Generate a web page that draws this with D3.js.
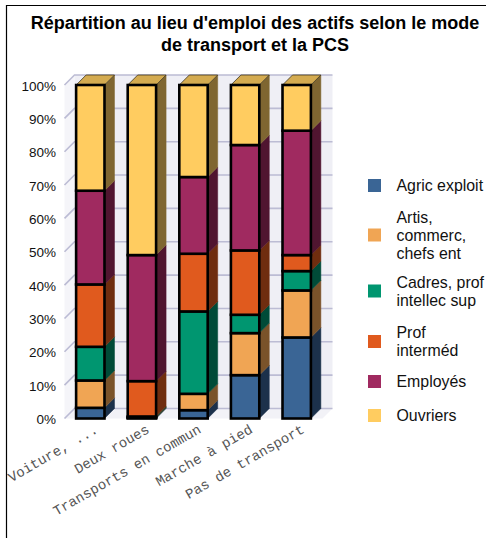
<!DOCTYPE html>
<html><head><meta charset="utf-8">
<script src="https://cdn.jsdelivr.net/npm/d3@7"></script>
<style>html,body{margin:0;padding:0;background:#fff}svg{display:block}</style>
</head><body>
<svg id="c" width="486" height="538"></svg>
<script>
const categories = ["Voiture, ...", "Deux roues", "Transports en commun", "Marche à pied", "Pas de transport"];
const seriesNames = ["Agric exploit", "Artis, commerc, chefs ent", "Cadres, prof intellec sup", "Prof interméd", "Employés", "Ouvriers"];
const legendLines = [["Agric exploit"], ["Artis,", "commerc,", "chefs ent"], ["Cadres, prof", "intellec sup"], ["Prof", "interméd"], ["Employés"], ["Ouvriers"]];
const agric = [3.2, 0.2, 2.5, 13.0, 24.3];
const artis = [8.2, 0.1, 4.9, 12.6, 14.1];
const cadres = [10.1, 0.3, 24.7, 5.5, 5.8];
const prof = [18.7, 10.6, 17.3, 19.3, 4.8];
const employes = [28.1, 37.8, 23.0, 31.6, 37.3];
const ouvriers = [31.7, 51.0, 27.6, 18.0, 13.7];
const seriesValues = [agric, artis, cadres, prof, employes, ouvriers];
const ticks = [0, 10, 20, 30, 40, 50, 60, 70, 80, 90, 100];
const frontColors = ["#3a6595", "#f0a554", "#009670", "#e05a1e", "#a02a60", "#ffcc60"];
const sideColors = ["#1c314b", "#7a532a", "#004b38", "#6f2d0f", "#501530", "#7f6631"];
const topColor = "#d4ab50";

const svg = d3.select("#c");
const depth = 10;
const x = d3.scaleBand().domain(categories).range([64.5, 322.5]).paddingInner(0.45).paddingOuter(0.225);
const y = d3.scaleLinear().domain([0, 100]).range([418.5, 85]);
const poly = pts => pts.map(p => p.join(",")).join(" ");

// frame
svg.append("path").attr("d", "M6.5,538V5.5H486").attr("fill", "none").attr("stroke", "#000").attr("stroke-width", 1.2);

// title
const title = svg.append("text").attr("text-anchor", "middle").attr("font-family", "Liberation Sans").attr("font-weight", "bold").attr("font-size", 18).attr("fill", "#000");
title.append("tspan").attr("x", 255).attr("y", 28.5).text("Répartition au lieu d'emploi des actifs selon le mode");
title.append("tspan").attr("x", 255).attr("y", 50.5).text("de transport et la PCS");

// walls
const [x0, x1] = x.range();
const w = svg.append("g");
w.append("polygon").attr("fill", "#f2f2f7").attr("points", poly([[x0, y(0)], [x0 + depth, y(0) - depth], [x1 + depth, y(0) - depth], [x1, y(0)]]));
w.append("polygon").attr("fill", "#f5f5f9").attr("points", poly([[x0, y(0)], [x0, y(100)], [x0 + depth, y(100) - depth], [x0 + depth, y(0) - depth]]));
w.append("rect").attr("fill", "#efeff5").attr("x", x0 + depth).attr("y", y(100) - depth).attr("width", x1 - x0).attr("height", y(0) - y(100));
ticks.forEach(t => {
  w.append("path").attr("fill", "none").attr("stroke", "#bcbcd4").attr("stroke-width", 1.6)
    .attr("d", `M${x0},${y(t)}L${x0 + depth},${y(t) - depth}H${x1 + depth}`);
});

// y axis labels
svg.append("g").selectAll("text").data(ticks).join("text")
  .attr("x", 56).attr("y", d => y(d) + 5.5).attr("text-anchor", "end")
  .attr("font-family", "Liberation Sans").attr("font-size", 13.5).attr("fill", "#111")
  .text(d => d + "%");

// bars
const rows = categories.map((c, i) => {
  const r = { cat: c };
  seriesNames.forEach((s, k) => r[s] = seriesValues[k][i]);
  return r;
});
const stacked = d3.stack().keys(seriesNames)(rows);
categories.forEach((c, i) => {
  const g = svg.append("g");
  const bx = x(c), bw = x.bandwidth();
  stacked.forEach((layer, k) => {
    const [a, b] = layer[i];
    g.append("polygon").attr("fill", sideColors[k]).attr("stroke", sideColors[k]).attr("stroke-width", 0.5)
      .attr("points", poly([[bx + bw, y(a)], [bx + bw + depth, y(a) - depth], [bx + bw + depth, y(b) - depth], [bx + bw, y(b)]]));
  });
  g.append("polygon").attr("fill", topColor).attr("stroke", "#3c3520").attr("stroke-width", 0.8)
    .attr("points", poly([[bx, y(100)], [bx + depth, y(100) - depth], [bx + bw + depth, y(100) - depth], [bx + bw, y(100)]]));
  stacked.forEach((layer, k) => {
    const [a, b] = layer[i];
    g.append("rect").attr("x", bx).attr("width", bw)
      .attr("y", y(b)).attr("height", Math.max(0, y(a) - y(b)))
      .attr("fill", frontColors[k]).attr("stroke", "#000").attr("stroke-width", 2.6);
  });
});

// category labels
svg.append("g").selectAll("text").data(categories).join("text")
  .attr("transform", d => `translate(${x(d) + x.bandwidth() / 2 + 8.5},${432}) rotate(-30)`)
  .attr("text-anchor", "end")
  .attr("font-family", "Liberation Mono").attr("font-size", 14).attr("fill", "#555")
  .text(d => d);

// legend
const legendY = [185.5, 235, 291, 341.5, 381.5, 415.5];
const lg = svg.append("g");
seriesNames.forEach((s, k) => {
  lg.append("rect").attr("x", 368).attr("y", legendY[k] - 6.5).attr("width", 13).attr("height", 13).attr("fill", frontColors[k]);
  const lines = legendLines[k];
  const t = lg.append("text").attr("font-family", "Liberation Sans").attr("font-size", 15.9).attr("fill", "#111");
  lines.forEach((l, j) => t.append("tspan").attr("x", 396.5).attr("y", legendY[k] + 5.5 + (j - (lines.length - 1) / 2) * 18).text(l));
});
</script>
</body></html>
